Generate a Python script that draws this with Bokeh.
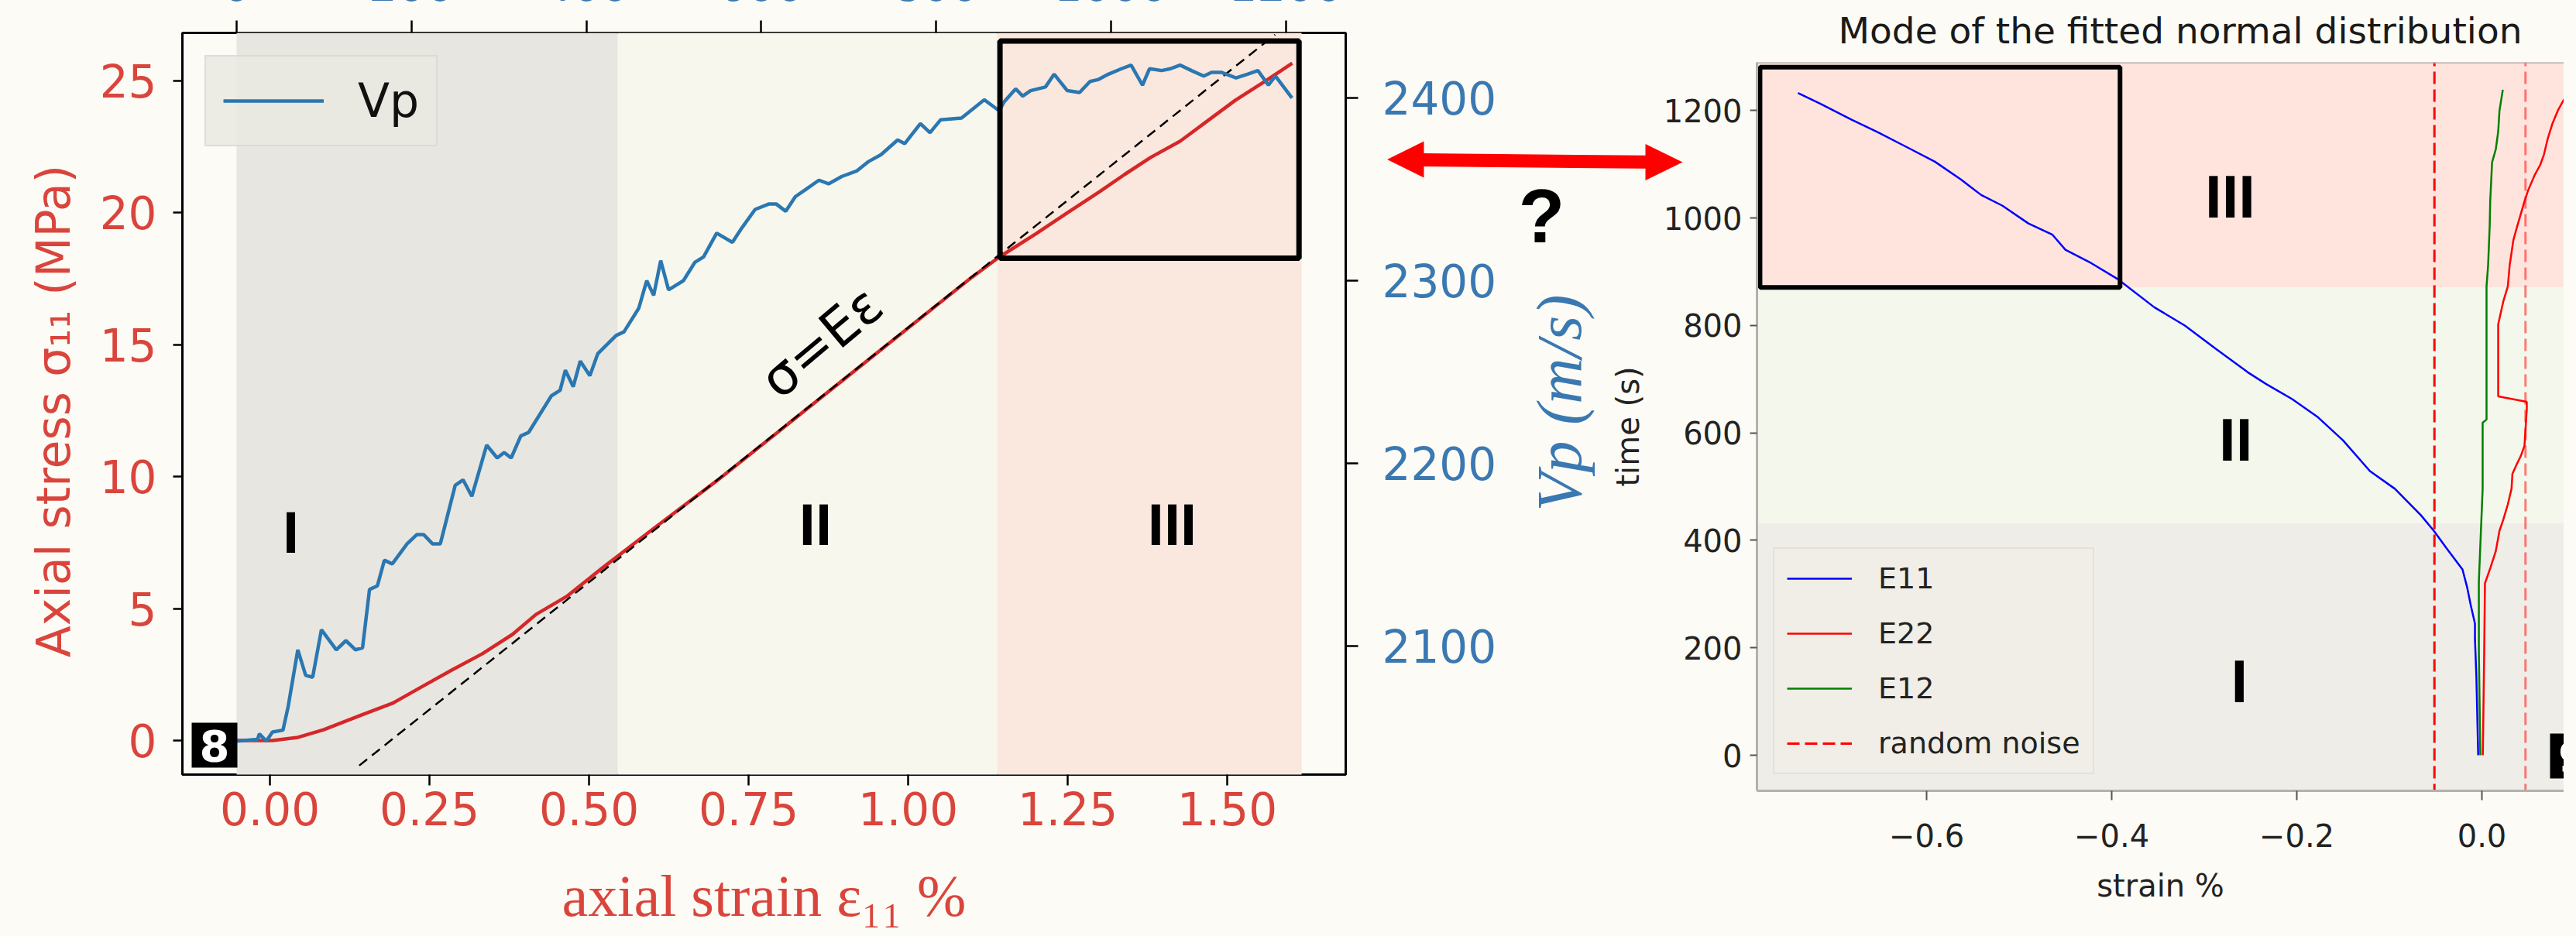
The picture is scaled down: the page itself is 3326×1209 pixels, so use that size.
import math
from bokeh.plotting import figure
from bokeh.layouts import row
from bokeh.models import (Range1d, LinearAxis, FixedTicker, NumeralTickFormatter, Legend,
                          LegendItem, Span, GlobalInlineStyleSheet)
from bokeh.core.properties import value
from bokeh.embed import file_html
from bokeh.resources import INLINE

# ------------------------------------------------------------------ left panel data
strain_pct = [-0.052, 0.004, 0.044, 0.084, 0.144, 0.192, 0.239, 0.285, 0.333, 0.380,
              0.417, 0.465, 0.521, 0.600, 0.700, 0.800, 0.900, 1.000, 1.100, 1.142,
              1.200, 1.250, 1.300, 1.339, 1.380, 1.426, 1.470, 1.513, 1.560, 1.602]
stress_mpa = [0.00, 0.00, 0.12, 0.41, 0.97, 1.41, 2.05, 2.67, 3.29, 4.02,
              4.78, 5.46, 6.54, 8.01, 9.84, 11.77, 13.70, 15.63, 17.56, 18.31,
              19.20, 20.01, 20.80, 21.45, 22.10, 22.71, 23.50, 24.27, 25.00, 25.67]

vp_time_s = [0, 24, 26, 34, 41, 53, 59, 70, 79, 87,
             97, 114, 125, 136, 144, 152, 161, 169, 178, 195,
             206, 214, 224, 233, 250, 259, 269, 286, 298, 306,
             314, 325, 334, 360, 370, 376, 385, 393, 404, 413,
             434, 443, 460, 469, 477, 485, 494, 511, 524, 534,
             549, 567, 578, 593, 609, 617, 628, 639, 651, 666,
             677, 692, 709, 722, 737, 756, 764, 782, 793, 805,
             829, 855, 872, 878, 891, 899, 908, 925, 935, 950,
             964, 976, 985, 997, 1012, 1023, 1036, 1044, 1058, 1068,
             1079, 1092, 1106, 1115, 1126, 1143, 1156, 1168, 1180, 1188,
             1207]
vp_ms = [2048, 2049, 2052, 2048, 2053, 2054, 2067, 2098, 2084, 2083,
         2109, 2098, 2103, 2098, 2099, 2131, 2133, 2147, 2145, 2156,
         2161, 2161, 2156, 2156, 2188, 2191, 2182, 2210, 2203, 2206,
         2203, 2215, 2217, 2237, 2240, 2251, 2242, 2256, 2248, 2260,
         2270, 2272, 2285, 2300, 2292, 2311, 2295, 2300, 2310, 2313,
         2326, 2321, 2329, 2339, 2342, 2342, 2338, 2346, 2350, 2355,
         2353, 2357, 2360, 2365, 2369, 2377, 2375, 2386, 2381, 2388,
         2389, 2399, 2393, 2398, 2405, 2401, 2404, 2406, 2413, 2404,
         2403, 2409, 2410, 2413, 2416, 2418, 2407, 2416, 2415, 2416,
         2418, 2415, 2412, 2414, 2414, 2411, 2413, 2415, 2407, 2412,
         2400]

fit_strain = [0.14, 1.575]          # sigma = E * eps guide line
fit_stress = [-0.95, 26.75]

phase_edges_time = [0, 436, 870, 1218]
phase_names = ["I", "II", "III"]
phase_label_time = [62, 662, 1070]
phase_label_stress = [7.9, 8.2, 8.2]

zoom_box_time = [873, 1215]
zoom_box_stress = [18.28, 26.51]

stress_ticks = [0, 5, 10, 15, 20, 25]
strain_ticks = [0.0, 0.25, 0.5, 0.75, 1.0, 1.25, 1.5]
time_ticks_top = [0, 200, 400, 600, 800, 1000, 1200]
vp_ticks = [2100, 2200, 2300, 2400]

# ------------------------------------------------------------------ right panel data
e11_strain = [-0.739, -0.715, -0.681, -0.653, -0.619, -0.591, -0.563, -0.541, -0.518, -0.490,
              -0.464, -0.450, -0.422, -0.394, -0.354, -0.321, -0.287, -0.253, -0.233, -0.205,
              -0.177, -0.150, -0.121, -0.094, -0.066, -0.052, -0.038, -0.021, -0.016, -0.012,
              -0.0075, -0.0075, -0.006, -0.004]
e11_time = [1233, 1213, 1183, 1160, 1130, 1105, 1072, 1043, 1023, 990,
            969, 941, 916, 887, 834, 800, 756, 713, 691, 663,
            629, 586, 529, 496, 447, 418, 385, 346, 313, 279,
            245, 216, 148, 0]

e22_strain = [0.001, 0.0025, 0.0033, 0.0092, 0.015, 0.019, 0.023, 0.028, 0.032, 0.033,
              0.038, 0.042, 0.046, 0.0485, 0.0485, 0.0176, 0.0176, 0.023, 0.028, 0.030,
              0.034, 0.038, 0.046, 0.050, 0.057, 0.063, 0.067, 0.071, 0.076, 0.082,
              0.088, 0.097]
e22_time = [0, 193, 320, 349, 380, 418, 438, 467, 496, 524,
            543, 557, 576, 644, 658, 668, 802, 844, 873, 912,
            959, 984, 1031, 1052, 1080, 1099, 1118, 1147, 1175, 1200,
            1219, 1235]

e12_strain = [-0.0017, -0.0033, -0.0033, 0.0008, 0.0008, 0.005, 0.005, 0.0067, 0.0084, 0.009,
              0.011, 0.015, 0.0176, 0.019, 0.0226]
e12_time = [0, 193, 323, 496, 619, 625, 873, 912, 984, 1032,
            1104, 1128, 1161, 1200, 1239]

noise_strain = [-0.0513, 0.0471]
noise_alpha = [1.0, 0.5]

right_phase_edges = [432, 871]
right_phase_label_strain = [-0.262, -0.266, -0.272]
right_phase_label_time = [138, 588, 1040]
right_box_strain = [-0.780, -0.391]
right_box_time = [871, 1281]

right_time_ticks = [0, 200, 400, 600, 800, 1000, 1200]
right_strain_ticks = [-0.6, -0.4, -0.2, 0.0]
right_strain_labels = ["\u22120.6", "\u22120.4", "\u22120.2", "0.0"]

# ------------------------------------------------------------------ styles
CREAM = "#fdfbf5"
RED_LINE = "#d62728"
RED_TXT = "#d9453c"
BLUE_LINE = "#2a77b1"
BLUE_TXT = "#3a78b2"
GRAY_AX = "#b4b0aa"


def no_frame_align(fig):
    try:
        fig.frame_align = False
    except Exception:
        pass


# ------------------------------------------------------------------ left panel
P1_TOP = 150
p1 = figure(frame_width=1502, frame_height=958,
            x_range=Range1d(-0.1371, 1.6857), y_range=Range1d(-1.291, 26.82),
            output_backend="svg", toolbar_location=None,
            min_border_left=235, min_border_right=400, min_border_top=P1_TOP,
            min_border_bottom=240,
            background_fill_color=CREAM, border_fill_color=CREAM,
            outline_line_color="black", outline_line_width=3,
            margin=(50 - P1_TOP - 8, 0, 0, 0), align="start")
no_frame_align(p1)
p1.extra_x_ranges = {"time": Range1d(-62.0, 1268.4)}
p1.extra_y_ranges = {"vp": Range1d(2029.7, 2435.6)}
p1.grid.visible = False

p1.quad(left=phase_edges_time[:-1], right=phase_edges_time[1:],
        bottom=p1.y_range.start - 1, top=p1.y_range.end + 1, x_range_name="time",
        fill_color=["#e8e6e0", "#f7f7ee", "#fae7de"], line_color=None)

p1.line(strain_pct, stress_mpa, line_color=RED_LINE, line_width=4.5)
p1.line(fit_strain, fit_stress, line_color="black", line_width=2.5, line_dash="13 8")
vp_r = p1.line(vp_time_s, vp_ms, x_range_name="time", y_range_name="vp",
               line_color=BLUE_LINE, line_width=4.5)

p1.quad(left=[zoom_box_time[0]], right=[zoom_box_time[1]],
        bottom=[zoom_box_stress[0]], top=[zoom_box_stress[1]], x_range_name="time",
        fill_color=None, line_color="black", line_width=7)

p1.text(x=phase_label_time, y=phase_label_stress, text=phase_names, x_range_name="time",
        text_font=value("Liberation Sans"), text_font_style="bold", text_font_size="76px",
        text_align="center", text_baseline="middle", text_color="black")

p1.text(x=[0.864], y=[15.1], text=["\u03c3=E\u03b5"], angle=40, angle_units="deg",
        text_font=value("DejaVu Sans"), text_font_size="68px",
        text_align="center", text_baseline="middle", text_color="black")

def frac_p1(fx, fy):
    xr, yr = p1.x_range, p1.y_range
    return xr.start + fx * (xr.end - xr.start), yr.start + fy * (yr.end - yr.start)

bx0, by0 = frac_p1(12 / 1502, 9 / 958)
bx1, by1 = frac_p1(71 / 1502, 67 / 958)
p1.quad(left=[bx0], right=[bx1], bottom=[by0], top=[by1], fill_color="black", line_color=None)
p1.text(x=[(bx0 + bx1) / 2], y=[(by0 + by1) / 2], text=["8"],
        text_font=value("DejaVu Sans"), text_font_style="bold", text_font_size="56px",
        text_align="center", text_baseline="middle", text_color="white")

legend1 = Legend(items=[LegendItem(label="Vp", renderers=[vp_r])], location="top_left",
                 margin=29, padding=22, spacing=0, glyph_width=130, glyph_height=62,
                 label_height=62, label_standoff=44, label_text_font="DejaVu Sans",
                 label_text_font_size="60px", label_text_color="#111111",
                 background_fill_color="#e9e7e1", background_fill_alpha=0.85,
                 border_line_color="#cfcdc7", border_line_width=2)
p1.add_layout(legend1)

ax_b = p1.xaxis[0]
ax_b.ticker = FixedTicker(ticks=strain_ticks)
ax_b.formatter = NumeralTickFormatter(format="0.00")
ax_b.axis_label = "axial strain \u03b5\u2081\u2081 %"
ax_l = p1.yaxis[0]
ax_l.ticker = FixedTicker(ticks=stress_ticks)
ax_l.axis_label = "Axial stress \u03c3\u2081\u2081  (MPa)"
for ax in (ax_b, ax_l):
    ax.axis_line_color = None
    ax.major_tick_in = 0
    ax.major_tick_line_color = "black"
    ax.major_tick_line_width = 2.5
    ax.minor_tick_line_color = None
    ax.major_label_text_font = "DejaVu Sans"
    ax.major_label_text_font_size = "58px"
    ax.major_label_text_color = RED_TXT
    ax.axis_label_text_color = RED_TXT
    ax.axis_label_text_font_style = "normal"
ax_b.major_tick_out = 14
ax_b.major_label_standoff = 8
ax_b.axis_label_standoff = 46
ax_b.axis_label_text_font = "Liberation Serif"
ax_b.axis_label_text_font_size = "76px"
ax_l.major_tick_out = 12
ax_l.major_label_standoff = 21
ax_l.axis_label_standoff = 22
ax_l.axis_label_text_font = "DejaVu Sans"
ax_l.axis_label_text_font_size = "60px"

ax_t = LinearAxis(x_range_name="time", ticker=FixedTicker(ticks=time_ticks_top))
ax_r = LinearAxis(y_range_name="vp", ticker=FixedTicker(ticks=vp_ticks))
for ax in (ax_t, ax_r):
    ax.axis_line_color = None
    ax.major_tick_in = 0
    ax.major_tick_out = 16
    ax.major_tick_line_color = "black"
    ax.major_tick_line_width = 2.5
    ax.minor_tick_line_color = None
    ax.major_label_text_font = "DejaVu Sans"
    ax.major_label_text_font_size = "58px"
    ax.major_label_text_color = BLUE_TXT
ax_t.major_label_standoff = 26
ax_r.major_label_standoff = 31
p1.add_layout(ax_t, "above")
p1.add_layout(ax_r, "right")

P1_WIDTH = 235 + 1502 + 400          # canvas width of the left panel

# ------------------------------------------------------------------ right panel
p2 = figure(frame_width=1042, frame_height=941,
            x_range=Range1d(-0.7833, 0.0887), y_range=Range1d(-66.3, 1290),
            output_backend="svg", toolbar_location=None,
            min_border_left=196, min_border_right=0, min_border_top=110, min_border_bottom=230,
            background_fill_color=CREAM, border_fill_color=CREAM, outline_line_color=None,
            title="Mode of the fitted normal distribution",
            margin=(-30, 0, 0, 2080 - (8 + P1_WIDTH)), align="start")
no_frame_align(p2)
p2.grid.visible = False
p2.title.text_font = "DejaVu Sans"
p2.title.text_font_size = "47px"
p2.title.text_font_style = "normal"
p2.title.text_color = "#1a1a1a"
p2.title.align = "left"
p2.title.offset = 105
p2.title.standoff = 27

ys0, ys1 = p2.y_range.start - 10, p2.y_range.end + 10
p2.quad(left=p2.x_range.start - 1, right=p2.x_range.end + 1,
        bottom=[ys0] + right_phase_edges, top=right_phase_edges + [ys1],
        fill_color=["#efede7", "#f4f7eb", "#ffe4de"], line_color=None)

r_e11 = p2.line(e11_strain, e11_time, line_color="#0000ff", line_width=2.5)
r_e22 = p2.line(e22_strain, e22_time, line_color="#ff0000", line_width=2.5)
r_e12 = p2.line(e12_strain, e12_time, line_color="#008000", line_width=2.5)
noise_r = []
for xv, al in zip(noise_strain, noise_alpha):
    noise_r.append(p2.line([xv, xv], [ys0, ys1], line_color="#ff0000", line_alpha=al,
                           line_width=3, line_dash="16 7"))

p2.quad(left=[right_box_strain[0]], right=[right_box_strain[1]],
        bottom=[right_box_time[0]], top=[right_box_time[1]],
        fill_color=None, line_color="black", line_width=6)

p2.text(x=right_phase_label_strain, y=right_phase_label_time, text=phase_names,
        text_font=value("Liberation Sans"), text_font_style="bold", text_font_size="78px",
        text_align="center", text_baseline="middle", text_color="black")

def frac_p2(fx, fy):
    xr, yr = p2.x_range, p2.y_range
    return xr.start + fx * (xr.end - xr.start), yr.start + fy * (yr.end - yr.start)

cx0, cy0 = frac_p2(1024 / 1042, 16 / 941)
cx1, cy1 = frac_p2(1084 / 1042, 74 / 941)
p2.quad(left=[cx0], right=[cx1], bottom=[cy0], top=[cy1], fill_color="black", line_color=None)
p2.text(x=[(cx0 + cx1) / 2], y=[(cy0 + cy1) / 2], text=["9"],
        text_font=value("DejaVu Sans"), text_font_style="bold", text_font_size="56px",
        text_align="center", text_baseline="middle", text_color="white")

legend2 = Legend(items=[LegendItem(label="E11", renderers=[r_e11]),
                        LegendItem(label="E22", renderers=[r_e22]),
                        LegendItem(label="E12", renderers=[r_e12]),
                        LegendItem(label="random noise", renderers=[noise_r[0]])],
                 location="bottom_left", margin=21, padding=16, spacing=27,
                 glyph_width=84, glyph_height=42, label_height=42, label_standoff=34,
                 label_text_font="DejaVu Sans", label_text_font_size="38px",
                 label_text_color="#222222",
                 background_fill_color="#efede7", background_fill_alpha=0.9,
                 border_line_color="#d6d3cd", border_line_width=2)
p2.add_layout(legend2)

p2.add_layout(Span(location=p2.y_range.end, dimension="width", line_color=GRAY_AX, line_width=3))

ax2_l = p2.yaxis[0]
ax2_l.ticker = FixedTicker(ticks=right_time_ticks)
ax2_l.axis_label = "time (s)"
ax2_b = p2.xaxis[0]
ax2_b.ticker = FixedTicker(ticks=right_strain_ticks)
ax2_b.major_label_overrides = dict(zip(right_strain_ticks, right_strain_labels))
ax2_b.axis_label = "strain %"
for ax in (ax2_l, ax2_b):
    ax.axis_line_color = GRAY_AX
    ax.axis_line_width = 3
    ax.major_tick_in = 0
    ax.major_tick_line_color = "#555555"
    ax.major_tick_line_width = 2
    ax.minor_tick_line_color = None
    ax.major_label_text_font = "DejaVu Sans"
    ax.major_label_text_font_size = "40px"
    ax.major_label_text_color = "#222222"
    ax.axis_label_text_font = "DejaVu Sans"
    ax.axis_label_text_font_size = "40px"
    ax.axis_label_text_font_style = "normal"
    ax.axis_label_text_color = "#222222"
ax2_l.major_tick_out = 9
ax2_l.major_label_standoff = 10
ax2_l.axis_label_standoff = 20
ax2_b.major_tick_out = 12
ax2_b.major_label_standoff = 30
ax2_b.axis_label_standoff = 24

P2_WIDTH = 196 + 1042

# ------------------------------------------------------------------ overlay between the panels
# axis-less transparent figure whose data coordinates are page pixels (y downwards):
# holds the red double arrow, the "?" and the Vp axis title of the left panel.
MID_X = (1790, 2190)
MID_Y = (8, 708)
arrow_x = [1798.5, 1846, 1846, 2132, 2132, 2180, 2132, 2132, 1846, 1846]
arrow_y = [213.5, 190, 205.5, 208.3, 193.5, 217, 240.5, 225.3, 222.5, 237]
pm = figure(frame_width=MID_X[1] - MID_X[0], frame_height=MID_Y[1] - MID_Y[0],
            x_range=Range1d(*MID_X), y_range=Range1d(MID_Y[1], MID_Y[0]),
            x_axis_type=None, y_axis_type=None, output_backend="svg", toolbar_location=None,
            min_border=0, outline_line_color=None,
            background_fill_color=None, border_fill_color=None,
            margin=(MID_Y[0] - 8, 0, 0, MID_X[0] - (2080 + P2_WIDTH)), align="start")
no_frame_align(pm)
pm.grid.visible = False
pm.patch(arrow_x, arrow_y, fill_color="#ff0000", line_color=None)
pm.text(x=[1998], y=[286], text=["?"], text_font=value("Liberation Sans"),
        text_font_style="bold", text_font_size="98px", text_align="center",
        text_baseline="middle", text_color="black")
pm.text(x=[2021], y=[528], text=["Vp (m/s)"], angle=90, angle_units="deg",
        text_font=value("Liberation Serif"), text_font_style="italic", text_font_size="82px",
        text_align="center", text_baseline="middle", text_color=BLUE_TXT)

layout = row(p1, p2, pm, spacing=0,
             stylesheets=[GlobalInlineStyleSheet(
                 css="html, body { background-color: #fdfbf5; overflow: hidden; }")])

open("out.html", "w").write(file_html(layout, INLINE))
